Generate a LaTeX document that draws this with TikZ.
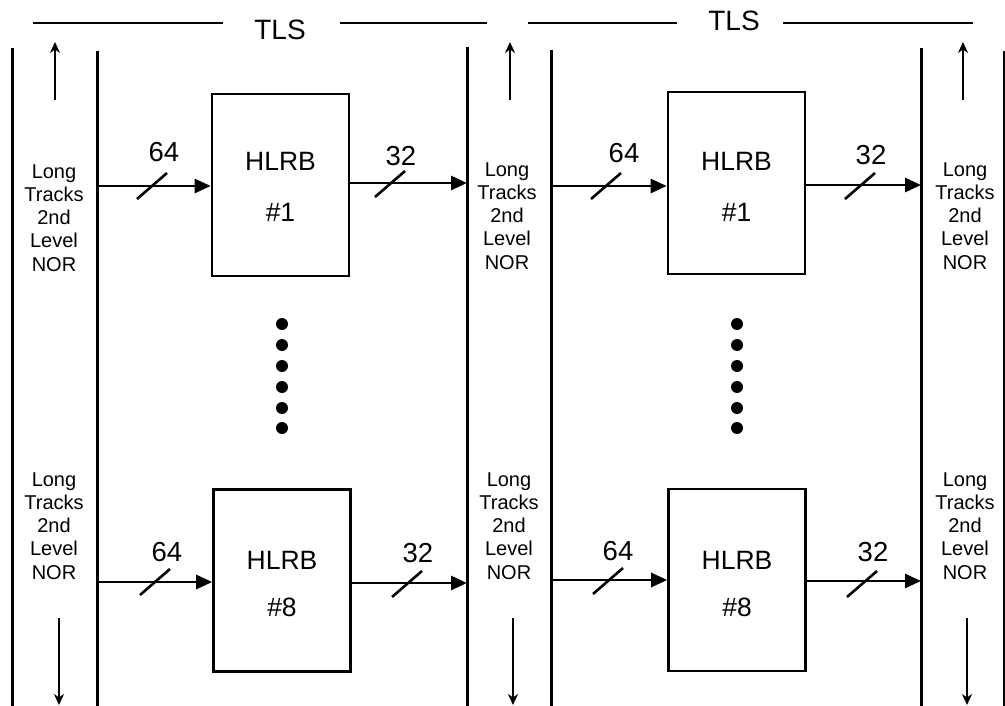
\documentclass[tikz,border=0pt]{standalone}
\usepackage{fontspec}
\setmainfont{Liberation Sans}
\usetikzlibrary{arrows.meta}
\begin{document}
\begin{tikzpicture}[x=1pt,y=-1pt,
  rail/.style={line width=3pt},
  bus/.style={line width=2.7pt,-{Triangle[length=16pt,width=14pt]}},
  flow/.style={line width=2pt,-{Stealth[length=11pt,width=10pt]}},
  slashmark/.style={line width=2.6pt},
  blk/.style={draw,line width=2.6pt,minimum width=137pt,minimum height=182pt,inner sep=0pt},
  blktxt/.style={font=\fontsize{26.5}{26}\selectfont},
  wnum/.style={font=\fontsize{27.5}{27}\selectfont},
  side/.style={align=center,font=\fontsize{20}{23.2}\selectfont},
  tls/.style={font=\fontsize{28}{28}\selectfont},
  hline/.style={line width=2.6pt}]
\useasboundingbox (0,0) rectangle (1005,706);
% TLS headers
\node[tls] (tlsA) at (280,30) {TLS};
\coordinate (tA1) at (33,23); \coordinate (tA2) at (223,23);
\coordinate (tA3) at (340,23); \coordinate (tA4) at (487,23);
\draw[hline] (tA1) -- (tA2); \draw[hline] (tA3) -- (tA4);
\node[tls] (tlsB) at (734,21) {TLS};
\coordinate (tB1) at (528,23); \coordinate (tB2) at (677,23);
\coordinate (tB3) at (783,23); \coordinate (tB4) at (973,23);
\draw[hline] (tB1) -- (tB2); \draw[hline] (tB3) -- (tB4);
% rails
\foreach \n/\x/\t in {r1/12/48, r2/97/51, r3/467/47, r4/551/50, r5/921/48, r6/1004/51}{
  \coordinate (\n t) at (\x,\t); \coordinate (\n b) at (\x,706);
  \draw[rail] (\n t) -- (\n b);
}
% up / down arrows
\foreach \n/\x/\xd in {a/55/59, b/510/513, c/963/967}{
  \coordinate (up\n s) at (\x,100); \coordinate (up\n e) at (\x,42);
  \draw[flow] (up\n s) -- (up\n e);
  \coordinate (dn\n s) at (\xd,618); \coordinate (dn\n e) at (\xd,705);
  \draw[flow] (dn\n s) -- (dn\n e);
}
% side labels
\foreach \n/\x/\y in {s1/54/218, s2/507/216, s3/965/216, s4/54/526, s5/509/526, s6/965/526}{
  \node[side] (\n) at (\x,\y) {Long\\Tracks\\2nd\\Level\\NOR};
}
% blocks
\node[blk] (b1L) at (280.5,185) {};
\node[blk] (b8L) at (282,580.5) {};
\node[blk] (b1R) at (736.5,183) {};
\node[blk] (b8R) at (737,580) {};
\node[blktxt] (h1L) at (280.5,161) {HLRB}; \node[blktxt] (n1L) at (280.5,212) {\#1};
\node[blktxt] (h8L) at (282,560) {HLRB}; \node[blktxt] (n8L) at (282,607) {\#8};
\node[blktxt] (h1R) at (736.5,161) {HLRB}; \node[blktxt] (n1R) at (736.5,212) {\#1};
\node[blktxt] (h8R) at (737,560) {HLRB}; \node[blktxt] (n8R) at (737,607) {\#8};
% dots
\foreach \y in {324,345,366,387,408,428}{
  \fill (282,\y) circle (6pt);
  \fill (737,\y) circle (6pt);
}
% buses
\coordinate (i1L) at (97,186); \draw[bus] (i1L) -- (b1L.west |- i1L);
\coordinate (o1L) at (b1L.east |- 0,183); \coordinate (e1L) at (467,183); \draw[bus] (o1L) -- (e1L);
\coordinate (i8L) at (97,582); \draw[bus] (i8L) -- (b8L.west |- i8L);
\coordinate (o8L) at (b8L.east |- 0,583); \coordinate (e8L) at (467,583); \draw[bus] (o8L) -- (e8L);
\coordinate (i1R) at (551,186); \draw[bus] (i1R) -- (b1R.west |- i1R);
\coordinate (o1R) at (b1R.east |- 0,185); \coordinate (e1R) at (921,185); \draw[bus] (o1R) -- (e1R);
\coordinate (i8R) at (551,580); \draw[bus] (i8R) -- (b8R.west |- i8R);
\coordinate (o8R) at (b8R.east |- 0,581); \coordinate (e8R) at (921,581); \draw[bus] (o8R) -- (e8R);
% width marks
\foreach \n/\x/\y/\tx/\ty/\t in {w1/152/186/164/152/64, w2/390/184/401/156/32, w3/155/582/167/552/64, w4/407/584/418/553/32,
  w5/606/186/624/153/64, w6/860/186/871/155/32, w7/608/581/618/551/64, w8/862/584/873/552/32}{
  \coordinate (\n a) at (\x-15,\y+13); \coordinate (\n b) at (\x+15,\y-13);
  \draw[slashmark] (\n a) -- (\n b);
  \node[wnum] (\n t) at (\tx,\ty) {\t};
}
\end{tikzpicture}
\end{document}
